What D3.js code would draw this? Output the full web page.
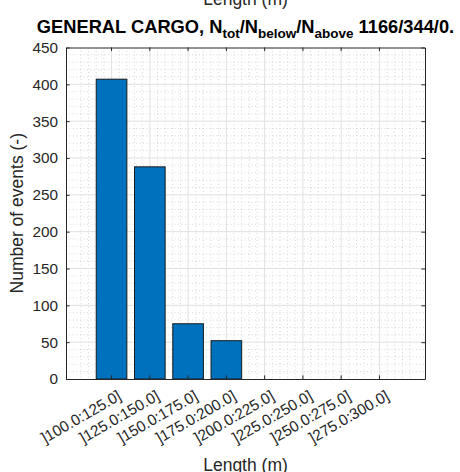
<!DOCTYPE html>
<html>
<head>
<meta charset="utf-8">
<script src="https://cdn.jsdelivr.net/npm/d3@7"></script>
<style>
  body { margin: 0; background: #fff; }
  text { font-family: "Liberation Sans", Arial, sans-serif; }
</style>
</head>
<body>
<div id="chart"></div>
<script>
// bins and counts
const categories = [']100.0:125.0]', ']125.0:150.0]', ']150.0:175.0]', ']175.0:200.0]',
  ']200.0:225.0]', ']225.0:250.0]', ']250.0:275.0]', ']275.0:300.0]'];
const counts = [407, 288, 75, 52, 0, 0, 0, 0];
const yTicks = [0, 50, 100, 150, 200, 250, 300, 350, 400, 450];
const yMax = 450;

const width = 460, height = 472;
const margin = {top: 47.5, right: 35, bottom: 93, left: 66};
const axisColor = '#262626';

const svg = d3.select('#chart').append('svg')
  .attr('width', width)
  .attr('height', height);

const innerW = width - margin.left - margin.right,
  innerH = height - margin.top - margin.bottom;

const x = d3.scaleBand()
  .domain(categories)
  .range([margin.left, margin.left + innerW])
  .paddingInner(0.2)
  .paddingOuter(0.79);

const y = d3.scaleLinear()
  .domain([0, yMax])
  .range([margin.top + innerH, margin.top]);

const step = x.step();
const center = d => x(d) + x.bandwidth() / 2;

// minor grid (dotted)
const grid = svg.append('g');
const minorY = d3.range(0, yMax + 1, 10).filter(v => v % 50 !== 0);
grid.selectAll('.minor-y')
  .data(minorY)
  .join('line')
  .attr('x1', margin.left).attr('x2', margin.left + innerW)
  .attr('y1', d => y(d)).attr('y2', d => y(d))
  .attr('stroke', '#bdbdbd').attr('stroke-width', 0.6)
  .attr('stroke-dasharray', '1,2.5');

const minorX = [];
for (let i = -5; i < categories.length * 5 + 6; i++) {
  if (i % 5 === 0) continue;
  const px = center(categories[0]) + i * step / 5;
  if (px > margin.left + 0.5 && px < margin.left + innerW - 0.5) minorX.push(px);
}
grid.selectAll('.minor-x')
  .data(minorX)
  .join('line')
  .attr('x1', d => d).attr('x2', d => d)
  .attr('y1', margin.top).attr('y2', margin.top + innerH)
  .attr('stroke', '#bdbdbd').attr('stroke-width', 0.6)
  .attr('stroke-dasharray', '1,2.5');

// major grid
grid.selectAll('.major-y')
  .data(yTicks.slice(1, -1))
  .join('line')
  .attr('x1', margin.left).attr('x2', margin.left + innerW)
  .attr('y1', d => y(d)).attr('y2', d => y(d))
  .attr('stroke', '#e0e0e0').attr('stroke-width', 1);
grid.selectAll('.major-x')
  .data(categories)
  .join('line')
  .attr('x1', d => center(d)).attr('x2', d => center(d))
  .attr('y1', margin.top).attr('y2', margin.top + innerH)
  .attr('stroke', '#e0e0e0').attr('stroke-width', 1);

// bars
svg.append('g')
  .selectAll('rect')
  .data(categories.map((c, i) => ({c, v: counts[i]})).filter(d => d.v > 0))
  .join('rect')
  .attr('x', d => x(d.c))
  .attr('width', x.bandwidth())
  .attr('y', d => y(d.v))
  .attr('height', d => y(0) - y(d.v))
  .attr('fill', '#0072bd')
  .attr('stroke', '#1a1a1a')
  .attr('stroke-width', 1);

// axes
const tickLen = 3.6;
const xAxis = svg.append('g')
  .attr('transform', `translate(0,${margin.top + innerH})`)
  .call(d3.axisBottom(x).tickSizeInner(-tickLen).tickSizeOuter(0).tickFormat(''));
const yAxis = svg.append('g')
  .attr('transform', `translate(${margin.left},0)`)
  .call(d3.axisLeft(y).tickValues(yTicks).tickSizeInner(-tickLen).tickSizeOuter(0).tickPadding(8));
const xTop = svg.append('g')
  .attr('transform', `translate(0,${margin.top})`)
  .call(d3.axisTop(x).tickSizeInner(-tickLen).tickSizeOuter(0).tickFormat(''));
const yRight = svg.append('g')
  .attr('transform', `translate(${margin.left + innerW},0)`)
  .call(d3.axisRight(y).tickValues(yTicks).tickSizeInner(-tickLen).tickSizeOuter(0).tickFormat(''));

[xAxis, yAxis, xTop, yRight].forEach(g => {
  g.select('.domain').attr('stroke', axisColor).attr('stroke-width', 1);
  g.selectAll('.tick line').attr('stroke', axisColor).attr('stroke-width', 1);
});
yAxis.selectAll('.tick text')
  .attr('fill', axisColor)
  .style('font-size', '15.3px');

// rotated category labels
svg.append('g')
  .selectAll('text')
  .data(categories)
  .join('text')
  .attr('transform', d => `translate(${center(d) + 5},${margin.top + innerH + 10}) rotate(-30)`)
  .attr('text-anchor', 'end')
  .attr('dy', '0.75em')
  .attr('fill', axisColor)
  .style('font-size', '15.3px')
  .text(d => d);

// axis labels
svg.append('text')
  .attr('x', margin.left + innerW / 2)
  .attr('y', 471)
  .attr('text-anchor', 'middle')
  .attr('fill', axisColor)
  .style('font-size', '17.5px')
  .text('Length (m)');

svg.append('text')
  .attr('x', margin.left + innerW / 2)
  .attr('y', 5)
  .attr('text-anchor', 'middle')
  .attr('fill', axisColor)
  .style('font-size', '17.5px')
  .text('Length (m)');

svg.append('text')
  .attr('transform', `translate(23,${margin.top + innerH / 2}) rotate(-90)`)
  .attr('text-anchor', 'middle')
  .attr('fill', axisColor)
  .style('font-size', '17.5px')
  .text('Number of events (-)');

// title with subscripts
const subShift = 5.6;
const title = svg.append('text')
  .attr('x', margin.left + innerW / 2)
  .attr('y', 32.5)
  .attr('text-anchor', 'middle')
  .attr('fill', '#000')
  .style('font-size', '18.3px')
  .style('font-weight', 'bold');
title.append('tspan').text('GENERAL CARGO, N');
title.append('tspan').attr('dy', subShift).style('font-size', '13.5px').text('tot');
title.append('tspan').attr('dy', -subShift).text('/N');
title.append('tspan').attr('dy', subShift).style('font-size', '13.5px').text('below');
title.append('tspan').attr('dy', -subShift).text('/N');
title.append('tspan').attr('dy', subShift).style('font-size', '13.5px').text('above');
title.append('tspan').attr('dy', -subShift).text(' 1166/344/0.');
</script>
</body>
</html>
